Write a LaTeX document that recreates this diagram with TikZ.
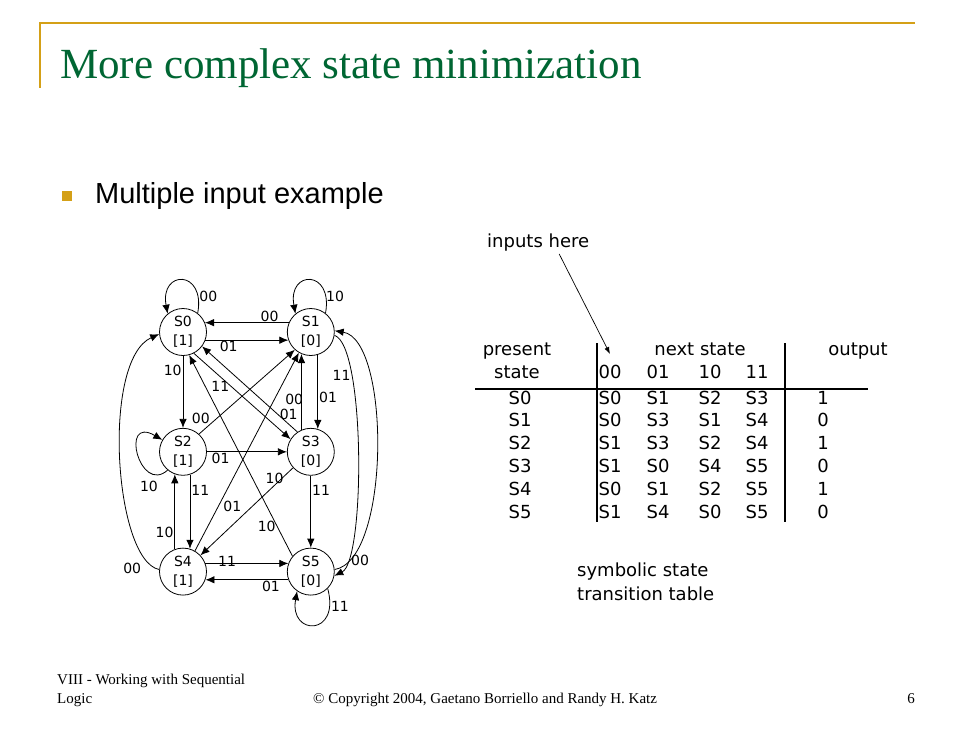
\documentclass[tikz,border=0pt]{standalone}
\usepackage{fontspec}
\setmainfont{Liberation Serif}
\newfontfamily\tahomafont{DejaVu Sans}
\newfontfamily\arialfont{Liberation Sans}
\usetikzlibrary{positioning, arrows.meta}
\definecolor{titlegreen}{RGB}{0,102,51}
\definecolor{rulegold}{RGB}{212,160,23}

\begin{document}
\begin{tikzpicture}[
    x=1pt, y=-1pt,
    node distance=72pt and 80pt,
    state/.style={draw, circle, line width=0.8pt, minimum size=47pt, inner sep=0pt, align=center, font=\tahomafont\fontsize{14}{19}\selectfont},
    lbl/.style={inner sep=1pt, font=\tahomafont\fontsize{14}{16}\selectfont},
    arrow/.style={-{Latex[length=9pt,width=7.5pt]}, line width=0.8pt},
    tab/.style={anchor=base, inner sep=0pt, font=\tahomafont\fontsize{18}{22}\selectfont},
    tabrule/.style={line width=2.6pt},
    foot/.style={anchor=base west, inner sep=0pt, font=\fontsize{15}{15}\selectfont}
]
\fill[white] (0,0) rectangle (973,729);

% slide frame and headings
\draw[draw=rulegold, line width=2.6pt] (40,23) -- (915,23);
\draw[draw=rulegold, line width=2pt] (40,22) -- (40,88);
\node[anchor=base west, inner sep=0pt, text=titlegreen, font=\fontsize{43}{43}\selectfont] (title) at (60,78) {More complex state minimization};
\node[fill=rulegold, minimum size=10pt, inner sep=0pt] (bullet) at (67,196) {};
\node[anchor=base west, inner sep=0pt, font=\arialfont\fontsize{29}{29}\selectfont] (sub) at (95,203) {Multiple input example};

% states
\node[state] (S0) at (183,332) {S0\\{[1]}};
\node[state, right=of S0] (S1) {S1\\{[0]}};
\node[state, below=of S0] (S2) {S2\\{[1]}};
\node[state, below=of S1] (S3) {S3\\{[0]}};
\node[state, below=of S2] (S4) {S4\\{[1]}};
\node[state, below=of S3] (S5) {S5\\{[0]}};

% transitions
\draw[arrow] (S0.52) .. controls +(8,-44) and +(-8,-44) .. (S0.130) node[lbl, pos=.15, right] (e1) {00};
\draw[arrow] (S1.52) .. controls +(8,-44) and +(-8,-44) .. (S1.130) node[lbl, pos=.15, right=-1pt] (e2) {10};
\draw[arrow] (S1.157) -- node[lbl, pos=.23, above] (e3) {00} (S0.23);
\draw[arrow] (S0.-20) -- node[lbl, pos=.28, below] (e4) {01} (S1.200);
\draw[arrow] (S0.south) -- node[lbl, pos=.2, left] (e5) {10} (S2.north);
\draw[arrow] (S0.-63) -- node[lbl, pos=.38, left] (e6) {11} (S3.148);
\draw[arrow] (S3.124) -- node[lbl, pos=.2, right] (e7) {01} (S0.-37);
\draw[arrow] (S3.113) -- node[lbl, pos=.4, left=-3pt] (e8) {00} (S1.247);
\draw[arrow] (S1.-73) -- node[lbl, pos=.57, right] (e9) {01} (S3.73);
\draw[arrow] (S2.48) -- node[lbl, pos=.12, above left=-1pt] (e10) {00} (S1.228);
\draw[arrow] (S4.60) -- node[lbl, pos=.26, below right] (e11) {01} (S1.240);
\draw[arrow] (S5.140) -- node[lbl, pos=.15, left] (e12) {10} (S0.-75);
\draw[arrow] (S3.222) -- node[lbl, pos=.2, above] (e13) {10} (S4.43);
\draw[arrow] (S2.east) -- node[lbl, pos=.17, below] (e14) {01} (S3.west);
\draw[arrow] (S2.-73) -- node[lbl, pos=.21, right] (e15) {11} (S4.73);
\draw[arrow] (S4.110) -- node[lbl, pos=.22, left] (e16) {10} (S2.250);
\draw[arrow] (S3.south) -- node[lbl, pos=.2, right] (e17) {11} (S5.north);
\draw[arrow] (S4.20) -- node[lbl, pos=.26, above=-4pt] (e18) {11} (S5.160);
\draw[arrow] (S5.200) -- node[lbl, pos=.21, below] (e19) {01} (S4.-20);
\draw[arrow] (S4.175) .. controls +(-45,-9) and +(-58,26) .. (S0.185) node[lbl, pos=.02, left=14pt] (e20) {00};
\draw[arrow] (S1.-8) .. controls +(31,10) and +(31,-15) .. (S5.-10) node[lbl, pos=.25, left] (e21) {11};
\draw[arrow] (S5.5) .. controls +(56,-9) and +(56,9) .. (S1.3) node[lbl, pos=.1, right] (e22) {00};
\draw[arrow] (S2.230) .. controls +(-28,25) and +(-43,-25) .. (S2.150) node[lbl, pos=.25, below=7pt] (e23) {10};
\draw[arrow] (S5.-45) .. controls +(13,48) and +(-8,45) .. (S5.235) node[lbl, pos=.15, right] (e24) {11};

% state transition table
\node[tab] (present) at (517,355) {present};
\node[tab] (pstate) at (517,378) {state};
\node[tab] (next) at (700,355) {next state};
\node[tab] (output) at (858,355) {output};
\foreach \inp/\x in {00/610, 01/658, 10/710, 11/757}
    \node[tab] (in\inp) at (\x,378) {\inp};
\foreach \ps/\na/\nb/\nc/\nd/\out [count=\i] in {S0/S0/S1/S2/S3/1, S1/S0/S3/S1/S4/0, S2/S1/S3/S2/S4/1, S3/S1/S0/S4/S5/0, S4/S0/S1/S2/S5/1, S5/S1/S4/S0/S5/0} {
    \node[tab] (ps\i) at (520,{404+(\i-1)*22.8}) {\ps};
    \node[tab] (na\i) at (610,{404+(\i-1)*22.8}) {\na};
    \node[tab] (nb\i) at (658,{404+(\i-1)*22.8}) {\nb};
    \node[tab] (nc\i) at (710,{404+(\i-1)*22.8}) {\nc};
    \node[tab] (nd\i) at (757,{404+(\i-1)*22.8}) {\nd};
    \node[tab] (out\i) at (823,{404+(\i-1)*22.8}) {\out};
}
\draw[tabrule] (597,343) -- (597,522);
\draw[tabrule] (785,343) -- (785,522);
\draw[tabrule] (475,389) -- (868,389);

\node[tab, anchor=base west] (inp) at (487,247) {inputs here};
\coordinate (inptip) at (610,354);
\draw[-{Latex[length=7pt,width=5pt]}, line width=0.7pt] ([xshift=21pt,yshift=-3pt]inp.south) -- (inptip);

\node[tab, anchor=base west] (sym1) at (577,576) {symbolic state};
\node[tab, anchor=base west] (sym2) at (577,600) {transition table};

% footer
\node[foot] (foot1) at (57,684) {VIII - Working with Sequential};
\node[foot] (foot2) at (57,703) {Logic};
\node[foot] (copy) at (313,703) {© Copyright 2004, Gaetano Borriello and Randy H. Katz};
\node[foot, anchor=base east] (page) at (915,703) {6};
\end{tikzpicture}
\end{document}
